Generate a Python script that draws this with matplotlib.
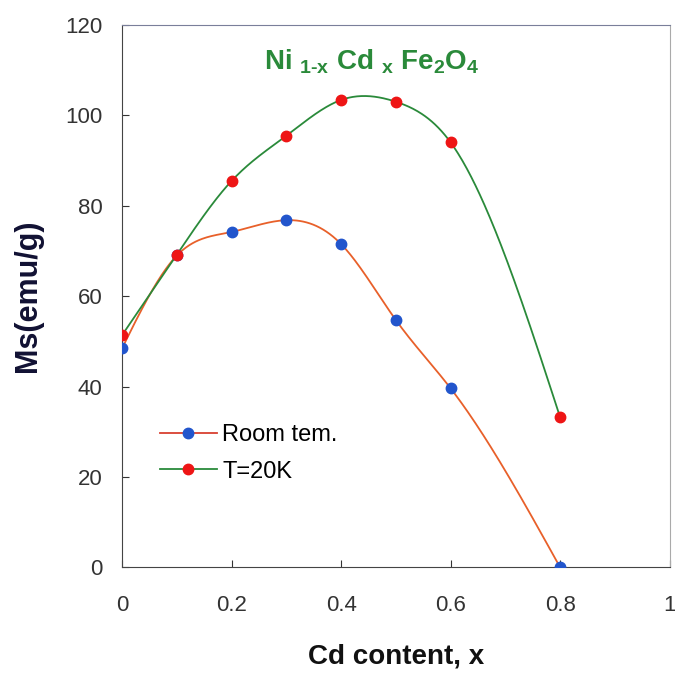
import matplotlib.pyplot as plt
import numpy as np

plt.rcParams['font.family'] = ['Liberation Sans', 'DejaVu Sans']
plt.rcParams['mathtext.fontset'] = 'custom'
plt.rcParams['mathtext.rm'] = 'Liberation Sans:bold'
plt.rcParams['mathtext.it'] = 'Liberation Sans:bold'
plt.rcParams['mathtext.bf'] = 'Liberation Sans:bold'

cd_x = [0, 0.1, 0.2, 0.3, 0.4, 0.5, 0.6, 0.8]
ms_room = [48.5, 69.0, 74.2, 76.8, 71.5, 54.7, 39.6, 0.0]
ms_20k = [51.4, 69.2, 85.5, 95.5, 103.4, 103.0, 94.0, 33.2]


def spline(x, y, n=400):
    # natural cubic spline through the measured points
    x = np.asarray(x, float)
    y = np.asarray(y, float)
    k = len(x)
    h = np.diff(x)
    A = np.zeros((k, k))
    b = np.zeros(k)
    A[0, 0] = A[-1, -1] = 1
    for i in range(1, k - 1):
        A[i, i - 1] = h[i - 1]
        A[i, i] = 2 * (h[i - 1] + h[i])
        A[i, i + 1] = h[i]
        b[i] = 6 * ((y[i + 1] - y[i]) / h[i] - (y[i] - y[i - 1]) / h[i - 1])
    m = np.linalg.solve(A, b)
    xs = np.linspace(x[0], x[-1], n)
    j = np.clip(np.searchsorted(x, xs) - 1, 0, k - 2)
    t0 = x[j + 1] - xs
    t1 = xs - x[j]
    hj = h[j]
    ys = (m[j] * t0 ** 3 / (6 * hj) + m[j + 1] * t1 ** 3 / (6 * hj)
          + (y[j] / hj - m[j] * hj / 6) * t0 + (y[j + 1] / hj - m[j + 1] * hj / 6) * t1)
    return xs, ys


fig = plt.figure(figsize=(6.75, 6.73), dpi=100)
ax = fig.add_axes([0.181, 0.157, 0.811, 0.806])

orange = '#e8602a'
green = '#2a8a3a'
blue = '#2255cc'
red = '#ee1515'

sx, sy = spline(cd_x, ms_room)
ax.plot(sx, sy, color=orange, lw=1.3, zorder=2)
sx, sy = spline(cd_x, ms_20k)
ax.plot(sx, sy, color=green, lw=1.3, zorder=2)
ax.plot(cd_x, ms_room, 'o', color=blue, ms=7.5, zorder=3)
ax.plot(cd_x, ms_20k, 'o', color=red, ms=7.5, zorder=3)

# legend proxies
ax.plot([], [], '-o', color='#d84030', mfc=blue, mec=blue, ms=7.5, lw=1.3, label='Room tem.')
ax.plot([], [], '-o', color=green, mfc=red, mec=red, ms=7.5, lw=1.3, label='T=20K')
ax.legend(loc='center left', bbox_to_anchor=(0.03, 0.21), frameon=False,
          fontsize=17, handlelength=2.4, handletextpad=0.25, labelspacing=0.6)

ax.set_xlim(0, 1)
ax.set_ylim(0, 120)
ax.set_xticks([0, 0.2, 0.4, 0.6, 0.8, 1])
ax.set_xticklabels(['0', '0.2', '0.4', '0.6', '0.8', '1'])
ax.set_yticks(range(0, 121, 20))
ax.tick_params(direction='in', length=5, labelsize=16, colors='#333333')
ax.tick_params(axis='y', pad=14)
ax.tick_params(axis='x', pad=20)
ax.tick_params(top=False, right=False)
ax.spines['left'].set_color('#444444')
ax.spines['bottom'].set_color('#444444')
ax.spines['top'].set_color('#7a7f9a')
ax.spines['right'].set_color('#aaaaaa')

ax.set_xlabel('Cd content, x', fontsize=20, fontweight='bold', labelpad=20, color='#111111')
ax.set_ylabel('Ms(emu/g)', fontsize=22, fontweight='bold', labelpad=16, color='#111133')

ax.text(0.455, 0.932, r'Ni $_{\mathrm{1\text{-}x}}$ Cd $_{\mathrm{x}}$ Fe$_{\mathrm{2}}$O$_{\mathrm{4}}$',
        transform=ax.transAxes, ha='center', va='center', fontsize=20,
        fontweight='bold', color=green)

fig.savefig('out.png', dpi=100)
